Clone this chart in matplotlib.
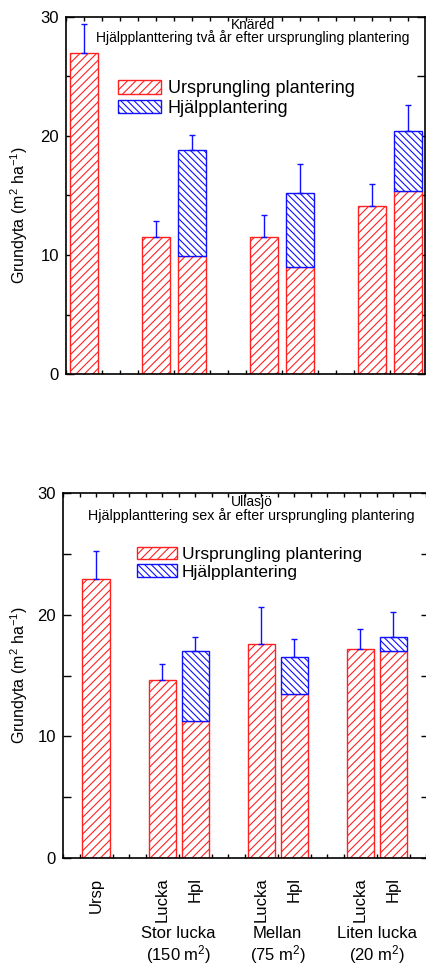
import numpy as np
import matplotlib
matplotlib.use('Agg')
import matplotlib.pyplot as plt
from matplotlib.patches import Patch
from matplotlib.ticker import MultipleLocator

plt.rcParams['font.family'] = ['Liberation Sans', 'DejaVu Sans']
plt.rcParams['mathtext.default'] = 'regular'
plt.rcParams['hatch.linewidth'] = 0.8

#-------- data ------------------------------------------
positions = [0, 2, 3, 5, 6, 8, 9]
tick_labels = ['Ursp', 'Lucka', 'Hpl', 'Lucka', 'Hpl', 'Lucka', 'Hpl']
group_pos = [2.5, 5.5, 8.5]
group_names = ['Stor lucka', 'Mellan', 'Liten lucka']
group_areas = ['(150 m$^2$)', '(75 m$^2$)', '(20 m$^2$)']
legend_labels = ['Ursprungling plantering', 'Hjälpplantering']

# Knäred: red part, total height (red + blue), upper error
knared_ursp = [27.0, 11.55, 9.9, 11.55, 9.0, 14.1, 15.35]
knared_total = [27.0, 11.55, 18.85, 11.55, 15.25, 14.1, 20.45]
knared_err = [2.4, 1.3, 1.2, 1.8, 2.4, 1.9, 2.15]

# Ullasjö
ullasjo_ursp = [22.9, 14.65, 11.3, 17.6, 13.5, 17.15, 17.0]
ullasjo_total = [22.9, 14.65, 17.05, 17.6, 16.55, 17.15, 18.15]
ullasjo_err = [2.35, 1.3, 1.15, 3.05, 1.45, 1.65, 2.05]

RED = '#ff2020'
BLUE = '#1010ff'
RED_HATCH = '////'
BLUE_HATCH = '\\\\\\\\\\'

fig = plt.figure(figsize=(4.27, 9.64), dpi=100)

# pixel boxes -> figure fractions
W, H = 427.0, 964.0
ax1 = fig.add_axes([66 / W, 1 - 374 / H, 359 / W, 357 / H])
ax2 = fig.add_axes([63 / W, 1 - 858 / H, 366 / W, 365 / H])


def draw_panel(ax, ursp, total, err, width):
    ursp = np.array(ursp)
    total = np.array(total)
    hjalp = total - ursp
    ax.bar(positions, ursp, width=width, color='white', edgecolor=RED,
           hatch=RED_HATCH, linewidth=1.0, zorder=2)
    is_hpl = hjalp > 0
    ax.bar(np.array(positions)[is_hpl], hjalp[is_hpl], bottom=ursp[is_hpl],
           width=width, color='white', edgecolor=BLUE, hatch=BLUE_HATCH,
           linewidth=1.0, zorder=2)
    ax.errorbar(positions, total, yerr=[np.zeros(len(err)), err], fmt='none',
                ecolor=BLUE, elinewidth=1.0, capsize=2.5, capthick=1.0, zorder=3)

    ax.set_ylim(0, 30)
    ax.yaxis.set_major_locator(MultipleLocator(10))
    ax.yaxis.set_minor_locator(MultipleLocator(5))
    ax.xaxis.set_minor_locator(MultipleLocator(0.5))
    ax.tick_params(which='both', direction='in', top=True, right=True,
                   labelsize=12, width=1.0)
    ax.tick_params(axis='y', which='major', length=6, pad=5)
    ax.tick_params(axis='y', which='minor', length=6)
    ax.tick_params(axis='x', which='both', length=3)
    for s in ax.spines.values():
        s.set_linewidth(1.2)

    handles = [Patch(facecolor='white', edgecolor=RED, hatch=RED_HATCH),
               Patch(facecolor='white', edgecolor=BLUE, hatch=BLUE_HATCH)]
    return handles


# ---- Knäred --------------------------------------------
h = draw_panel(ax1, knared_ursp, knared_total, knared_err, 0.8)
ax1.set_xlim(-0.5, 9.47)
ax1.set_xticks(positions)
ax1.set_xticklabels([])
ax1.text(0.52, 0.966, 'Knäred', transform=ax1.transAxes, ha='center',
         va='baseline', fontsize=9.8)
ax1.text(0.52, 0.929, 'Hjälpplanttering två år efter ursprungling plantering',
         transform=ax1.transAxes, ha='center', va='baseline', fontsize=10)
ax1.legend(h, legend_labels, loc='upper left', bbox_to_anchor=(0.145, 0.823),
           frameon=False, fontsize=13, handlelength=2.4, handleheight=0.75,
           handletextpad=0.35, labelspacing=0.15, borderpad=0, borderaxespad=0)
ax1.set_ylabel('Grundyta (m$^2$ ha$^{-1}$)', fontsize=11.5)
ax1.yaxis.set_label_coords(-0.100, 0.445)

# ---- Ullasjö -------------------------------------------
h = draw_panel(ax2, ullasjo_ursp, ullasjo_total, ullasjo_err, 0.82)
ax2.set_xlim(-1.0, 10.08)
ax2.set_xticks(positions)
ax2.set_xticklabels(tick_labels, rotation=90, va='top', ha='center')
ax2.tick_params(axis='x', which='major', pad=14, labelsize=12)
ax2.text(0.515, 0.965, 'Ullasjö', transform=ax2.transAxes, ha='center',
         va='baseline', fontsize=10)
ax2.text(0.515, 0.925, 'Hjälpplanttering sex år efter ursprungling plantering',
         transform=ax2.transAxes, ha='center', va='baseline', fontsize=10.3)
ax2.legend(h, legend_labels, loc='upper left', bbox_to_anchor=(0.202, 0.853),
           frameon=False, fontsize=12.5, handlelength=2.3, handleheight=0.75,
           handletextpad=0.3, labelspacing=0.12, borderpad=0, borderaxespad=0)
ax2.set_ylabel('Grundyta (m$^2$ ha$^{-1}$)', fontsize=11.5)
ax2.yaxis.set_label_coords(-0.090, 0.5)

xt = ax2.get_xaxis_transform()
for x, name, area in zip(group_pos, group_names, group_areas):
    ax2.text(x, -0.2192, name, transform=xt, ha='center', va='baseline',
             fontsize=12)
    ax2.text(x, -0.2795, area, transform=xt, ha='center', va='baseline',
             fontsize=12)

fig.savefig('out.png', dpi=100)
